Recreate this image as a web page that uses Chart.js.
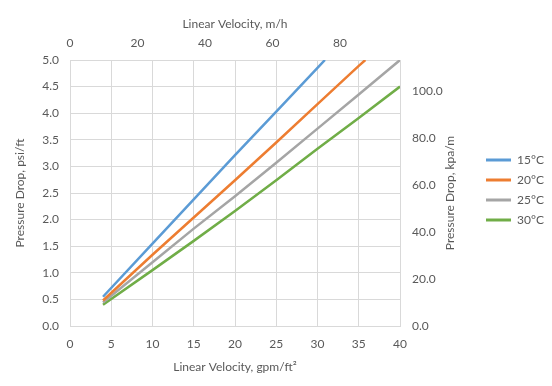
<!DOCTYPE html>
<html>
<head>
<meta charset="UTF-8" />
<title>Pressure Drop vs Linear Velocity</title>
<script src="https://cdn.jsdelivr.net/npm/chart.js@4.4.0/dist/chart.umd.min.js"></script>
<style>
  html, body { margin: 0; padding: 0; background: #fff; }
  #wrap { width: 552px; height: 386px; }
</style>
</head>
<body>
<div id="wrap"><canvas id="chart"></canvas></div>
<script>
  // values (gpm/ft2 -> psi/ft)
  const seriesNames = ['15\u00B0C', '20\u00B0C', '25\u00B0C', '30\u00B0C'];
  const seriesColors = ['#5b9bd5', '#ed7d31', '#a5a5a5', '#70ad47'];

  const vel15 = [4, 10, 15, 20, 25, 30, 30.9];
  const dp15  = [0.55, 1.55, 2.38, 3.21, 4.03, 4.85, 5.0];
  const vel20 = [4, 10, 15, 20, 25, 30, 35, 35.8];
  const dp20  = [0.48, 1.34, 2.04, 2.74, 3.45, 4.17, 4.89, 5.0];
  const vel25 = [4, 10, 15, 20, 25, 30, 35, 40];
  const dp25  = [0.44, 1.20, 1.83, 2.44, 3.07, 3.71, 4.35, 5.0];
  const vel30 = [4, 10, 15, 20, 25, 30, 35, 40];
  const dp30  = [0.40, 1.05, 1.60, 2.16, 2.74, 3.33, 3.91, 4.5];

  const velocities = [vel15, vel20, vel25, vel30];
  const drops = [dp15, dp20, dp25, dp30];

  // secondary axes are unit conversions of the primary ones
  const gpmMax = 40, psiMax = 5;
  const mhMax = gpmMax * 2.4448;     // m/h
  const kpaMax = psiMax * 22.621;    // kPa/m

  const textColor = '#595959';
  const gridColor = '#d9d9d9';
  Chart.defaults.font.family = 'Lato';
  Chart.defaults.font.size = 12;
  Chart.defaults.color = textColor;

  const datasets = seriesNames.map((name, i) => ({
    label: name,
    data: velocities[i].map((v, j) => ({ x: v, y: drops[i][j] })),
    borderColor: seriesColors[i],
    backgroundColor: seriesColors[i],
    borderWidth: 2.5,
    pointRadius: 0,
    tension: 0,
    fill: false
  }));

  // legend has a fixed width so the plot lines up
  const fixLegend = {
    id: 'fixLegend',
    beforeLayout(chart) {
      const lg = chart.legend;
      if (lg && !lg._fixed) {
        const fit = lg.fit;
        lg.fit = function () { fit.call(this); this.width = 74; };
        lg._fixed = true;
      }
    }
  };

  // right axis title reads bottom-to-top like the left one
  const rightTitle = {
    id: 'rightTitle',
    afterDraw(chart) {
      const s = chart.scales.y2;
      const ctx = chart.ctx;
      ctx.save();
      ctx.translate(s.right - 28, (s.top + s.bottom) / 2);
      ctx.rotate(-Math.PI / 2);
      ctx.font = '12px Lato';
      ctx.fillStyle = textColor;
      ctx.textAlign = 'center';
      ctx.textBaseline = 'middle';
      ctx.fillText('Pressure Drop, kpa/m', 0, 0);
      ctx.restore();
    }
  };

  new Chart(document.getElementById('chart'), {
    type: 'line',
    data: { datasets: datasets },
    plugins: [fixLegend, rightTitle],
    options: {
      responsive: true,
      maintainAspectRatio: false,
      animation: false,
      devicePixelRatio: 1,
      layout: { padding: { top: 0, bottom: 6, left: 0, right: 0 } },
      plugins: {
        tooltip: { enabled: false },
        legend: {
          position: 'right',
          labels: {
            boxWidth: 25,
            boxHeight: 3,
            padding: 8,
            color: textColor,
            font: { size: 12 },
            generateLabels: chart => Chart.defaults.plugins.legend.labels.generateLabels(chart)
              .map(item => Object.assign(item, { lineWidth: 0 }))
          }
        }
      },
      scales: {
        x: {
          type: 'linear',
          position: 'bottom',
          min: 0, max: gpmMax,
          ticks: { stepSize: 5, padding: 11 },
          grid: { color: gridColor, drawTicks: false },
          border: { color: gridColor },
          title: { display: true, text: 'Linear Velocity, gpm/ft\u00B2', padding: { top: 0, bottom: 6 } },
          afterFit: s => { s.height = 54; }
        },
        x2: {
          type: 'linear',
          position: 'top',
          min: 0, max: mhMax,
          ticks: { stepSize: 20, padding: 10, includeBounds: false },
          grid: { display: false, drawTicks: false },
          border: { color: gridColor },
          title: { display: true, text: 'Linear Velocity, m/h', padding: { top: 17, bottom: 0 } },
          afterFit: s => { s.height = 60; }
        },
        y: {
          position: 'left',
          min: 0, max: psiMax,
          ticks: { stepSize: 0.5, padding: 11, callback: v => v.toFixed(1) },
          grid: { color: gridColor, drawTicks: false },
          border: { color: gridColor },
          title: { display: true, text: 'Pressure Drop, psi/ft', padding: { top: 13, bottom: 0 } },
          afterFit: s => { s.width = 70; }
        },
        y2: {
          position: 'right',
          min: 0, max: kpaMax,
          ticks: { stepSize: 20, padding: 12, includeBounds: false, callback: v => v.toFixed(1) },
          grid: { display: false, drawTicks: false },
          border: { color: gridColor },
          afterFit: s => { s.width = 78; }
        }
      }
    }
  });
</script>
</body>
</html>
